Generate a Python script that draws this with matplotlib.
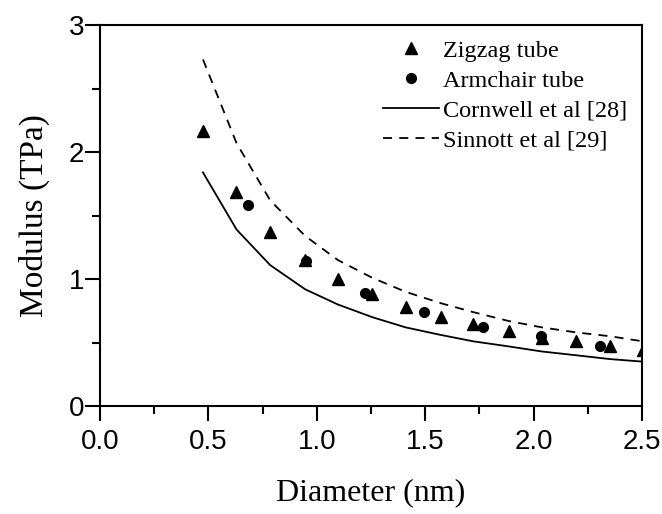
import matplotlib
matplotlib.use('Agg')
import matplotlib.pyplot as plt
from matplotlib.ticker import MultipleLocator

# Zigzag tubes (triangles)
zig_d = [0.473, 0.629, 0.783, 0.946, 1.097, 1.256, 1.409, 1.572, 1.721, 1.884, 2.037, 2.196, 2.352, 2.502]
zig_e = [2.17, 1.69, 1.37, 1.15, 1.00, 0.88, 0.78, 0.70, 0.65, 0.59, 0.54, 0.51, 0.47, 0.44]

# Armchair tubes (circles)
arm_d = [0.682, 0.952, 1.222, 1.495, 1.765, 2.035, 2.306]
arm_e = [1.58, 1.14, 0.89, 0.74, 0.62, 0.55, 0.47]

# Cornwell et al [28]
cor_d = [0.475, 0.63, 0.785, 0.946, 1.097, 1.256, 1.409, 1.572, 1.721, 1.884, 2.037, 2.196, 2.352, 2.502]
cor_e = [1.84, 1.39, 1.11, 0.92, 0.80, 0.70, 0.62, 0.56, 0.51, 0.47, 0.43, 0.40, 0.37, 0.35]

# Sinnott et al [29]
sin_d = [0.475, 0.63, 0.785, 0.946, 1.097, 1.256, 1.409, 1.572, 1.721, 1.884, 2.037, 2.196, 2.352, 2.502]
sin_e = [2.73, 2.07, 1.62, 1.34, 1.15, 1.01, 0.90, 0.81, 0.74, 0.67, 0.62, 0.58, 0.55, 0.51]

serif = ['Liberation Serif', 'DejaVu Serif']

fig = plt.figure(figsize=(6.62, 5.14), dpi=100)
ax = fig.add_axes([0.151, 0.21, 0.819, 0.741])

ax.plot(zig_d, zig_e, linestyle='none', marker='^', color='black', markersize=8, label='Zigzag tube')
ax.plot(arm_d, arm_e, linestyle='none', marker='o', color='black', markersize=7, label='Armchair tube')
ax.plot(cor_d, cor_e, '-', color='black', linewidth=1.3, label='Cornwell et al [28]')
ax.plot(sin_d, sin_e, '--', color='black', linewidth=1.3, dashes=(5, 4), label='Sinnott et al [29]')

ax.set_xlim(0, 2.5)
ax.set_ylim(0, 3)
ax.xaxis.set_minor_locator(MultipleLocator(0.25))
ax.yaxis.set_minor_locator(MultipleLocator(0.5))
ax.set_xticks([0, 0.5, 1.0, 1.5, 2.0, 2.5])
ax.set_xticklabels(['0.0', '0.5', '1.0', '1.5', '2.0', '2.5'])
ax.set_yticks([0, 1, 2, 3])
ax.set_yticklabels(['0', '1', '2', '3'])

ax.tick_params(which='major', direction='out', length=10.5, width=1.5, pad=6)
ax.tick_params(which='minor', direction='out', length=5.5, width=1.5)
ax.tick_params(axis='y', which='major', pad=1)
for lab in ax.get_xticklabels() + ax.get_yticklabels():
    lab.set_family(['Liberation Sans', 'DejaVu Sans'])
    lab.set_fontsize(20)
for sp in ax.spines.values():
    sp.set_linewidth(1.5)

ax.set_xlabel('Diameter (nm)', family=serif, fontsize=23, labelpad=17)
ax.set_ylabel('Modulus (TPa)', family=serif, fontsize=24, labelpad=13)

leg = ax.legend(loc='upper right', bbox_to_anchor=(1.0, 1.0), frameon=False,
                prop={'family': serif, 'size': 17.5}, handlelength=2.3,
                handletextpad=0.2, labelspacing=0.33, borderaxespad=0.2)

fig.savefig('out.png', dpi=100)
